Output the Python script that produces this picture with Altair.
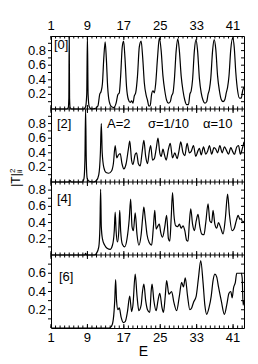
import altair as alt
import pandas as pd

FONT = "Liberation Sans"

E_LABELS = [1, 9, 17, 25, 33, 41]
E_MINOR = list(range(1, 44))
X_DOMAIN = [1, 43.4]

PANEL_NAMES = ["[0]", "[2]", "[4]", "[6]"]
Y_DOMAINS = [[0, 1.0], [0, 1.0], [0, 0.9], [0, 0.8]]
Y_TICKS = [
    [0.1, 0.2, 0.3, 0.4, 0.5, 0.6, 0.7, 0.8, 0.9],
    [0.1, 0.2, 0.3, 0.4, 0.5, 0.6, 0.7, 0.8, 0.9],
    [0.1, 0.2, 0.3, 0.4, 0.5, 0.6, 0.7, 0.8],
    [0.1, 0.2, 0.3, 0.4, 0.5, 0.6, 0.7],
]
Y_LABELS = [
    [0.2, 0.4, 0.6, 0.8],
    [0.2, 0.4, 0.6, 0.8],
    [0.2, 0.4, 0.6, 0.8],
    [0.2, 0.4, 0.6],
]
PARAMS = ["A=2", "σ=1/10", "α=10"]
Y_TITLE = ["|T|", "2", "ii"]
X_TITLE = "E"

# panel [0]
T0 = [
    (1.0, 0.0), (4.5, 0.0), (4.8, 0.02), (4.92, 0.15), (5.0, 1.0), (5.08, 0.15), (5.2, 0.02), (5.5, 0.0),
    (8.2, 0.0), (8.6, 0.03), (8.85, 0.2), (9.0, 1.0), (9.15, 0.2), (9.4, 0.03), (9.9, 0.0),
    (10.8, 0.01), (11.3, 0.04), (11.7, 0.2), (12.0, 0.24), (12.3, 0.35), (12.6, 0.7), (12.9, 0.92),
    (13.15, 0.7), (13.45, 0.3), (13.8, 0.1), (14.3, 0.03), (14.8, 0.02),
    (15.3, 0.08), (15.7, 0.2), (16.0, 0.22), (16.3, 0.45), (16.65, 0.85), (16.95, 0.93), (17.25, 0.7),
    (17.6, 0.3), (18.0, 0.13), (18.4, 0.09), (18.7, 0.11), (19.0, 0.08), (19.3, 0.18), (19.6, 0.22),
    (20.0, 0.45), (20.4, 0.85), (20.8, 0.93), (21.15, 0.7), (21.5, 0.36), (21.9, 0.19), (22.2, 0.12),
    (22.5, 0.04), (22.8, 0.05), (23.1, 0.2), (23.4, 0.25), (23.7, 0.22),
    (24.0, 0.35), (24.4, 0.7), (24.8, 0.97), (25.2, 0.8), (25.6, 0.45), (26.0, 0.25), (26.4, 0.12),
    (26.8, 0.08), (27.2, 0.1), (27.5, 0.18), (27.8, 0.22),
    (28.1, 0.4), (28.5, 0.8), (28.85, 0.96), (29.2, 0.8), (29.6, 0.45), (30.0, 0.25), (30.4, 0.12),
    (30.8, 0.06), (31.2, 0.06), (31.5, 0.2), (31.8, 0.25),
    (32.1, 0.4), (32.5, 0.8), (32.85, 0.95), (33.2, 0.8), (33.6, 0.42), (34.0, 0.22), (34.4, 0.12),
    (34.8, 0.08), (35.2, 0.1), (35.5, 0.2), (35.8, 0.27),
    (36.1, 0.42), (36.5, 0.8), (36.85, 0.95), (37.2, 0.82), (37.6, 0.45), (38.0, 0.25), (38.4, 0.13),
    (38.8, 0.1), (39.2, 0.13), (39.5, 0.22), (39.8, 0.3),
    (40.1, 0.45), (40.5, 0.82), (40.9, 0.97), (41.25, 0.85), (41.6, 0.5), (42.0, 0.25), (42.4, 0.15),
    (42.8, 0.15), (43.1, 0.25), (43.4, 0.3),
]

# panel [2]
T2 = [
    (1.0, 0.0), (4.9, 0.0), (5.2, 0.02), (5.5, 0.0), (7.9, 0.0), (8.25, 0.05), (8.45, 0.3), (8.6, 1.0),
    (8.75, 0.3), (8.95, 0.05), (9.4, 0.01), (10.3, 0.0), (11.0, 0.02), (11.5, 0.1), (11.85, 0.4),
    (12.05, 0.8), (12.25, 0.4), (12.6, 0.2), (13.1, 0.13), (13.7, 0.12), (14.3, 0.15), (14.7, 0.25),
    (15.1, 0.5), (15.45, 0.33), (15.8, 0.37), (16.2, 0.39), (16.6, 0.25), (17.0, 0.18), (17.5, 0.25),
    (18.0, 0.45), (18.3, 0.56), (18.7, 0.3), (19.0, 0.24), (19.5, 0.38), (19.8, 0.4), (20.2, 0.25),
    (20.6, 0.22), (21.0, 0.4), (21.4, 0.57), (21.8, 0.35), (22.2, 0.25), (22.6, 0.42), (22.9, 0.5),
    (23.3, 0.3), (23.7, 0.32), (24.1, 0.45), (24.5, 0.6), (24.9, 0.4), (25.2, 0.35), (25.6, 0.45),
    (25.9, 0.38), (26.3, 0.3), (26.8, 0.45), (27.2, 0.53), (27.7, 0.33), (28.2, 0.4), (28.7, 0.32),
    (29.1, 0.42), (29.5, 0.55), (30.0, 0.4), (30.4, 0.36), (30.9, 0.53), (31.4, 0.4), (31.8, 0.42),
    (32.3, 0.5), (32.8, 0.35), (33.3, 0.43), (33.6, 0.46), (34.0, 0.37), (34.5, 0.48), (35.0, 0.38),
    (35.4, 0.42), (35.8, 0.5), (36.3, 0.38), (36.8, 0.47), (37.2, 0.45), (37.6, 0.4), (38.1, 0.5),
    (38.6, 0.4), (39.1, 0.48), (39.5, 0.44), (40.0, 0.38), (40.5, 0.47), (40.9, 0.42), (41.3, 0.38),
    (41.8, 0.48), (42.2, 0.5), (42.6, 0.38), (43.0, 0.45), (43.4, 0.55),
]

# panel [4]
T4 = [
    (1.0, 0.0), (8.4, 0.0), (8.6, 0.02), (8.8, 0.0), (10.5, 0.0), (11.0, 0.02), (11.5, 0.1),
    (11.75, 0.35), (11.9, 0.81), (12.05, 0.35), (12.3, 0.2), (12.8, 0.12), (13.4, 0.08), (14.0, 0.07),
    (14.5, 0.12), (14.9, 0.3), (15.1, 0.53), (15.3, 0.3), (15.6, 0.16), (15.9, 0.3), (16.1, 0.55),
    (16.3, 0.3), (16.7, 0.13), (17.2, 0.1), (17.7, 0.2), (18.2, 0.45), (18.5, 0.69), (18.8, 0.35),
    (19.1, 0.3), (19.5, 0.52), (19.9, 0.25), (20.3, 0.12), (20.8, 0.25), (21.2, 0.5), (21.4, 0.59),
    (21.7, 0.45), (22.1, 0.25), (22.6, 0.15), (23.1, 0.12), (23.5, 0.35), (23.8, 0.55), (24.1, 0.32),
    (24.5, 0.36), (24.8, 0.38), (25.1, 0.28), (25.5, 0.22), (26.0, 0.35), (26.4, 0.49), (26.8, 0.2),
    (27.1, 0.17), (27.4, 0.45), (27.7, 0.77), (28.0, 0.5), (28.4, 0.36), (28.8, 0.35), (29.2, 0.38),
    (29.6, 0.33), (30.0, 0.36), (30.4, 0.3), (30.8, 0.18), (31.1, 0.17), (31.4, 0.4), (31.7, 0.57),
    (32.1, 0.38), (32.5, 0.3), (32.9, 0.42), (33.3, 0.5), (33.7, 0.35), (34.1, 0.26), (34.6, 0.25),
    (35.0, 0.4), (35.5, 0.63), (35.9, 0.42), (36.3, 0.4), (36.6, 0.55), (37.0, 0.38), (37.4, 0.33),
    (37.8, 0.4), (38.2, 0.35), (38.8, 0.26), (39.3, 0.45), (39.8, 0.75), (40.2, 0.5), (40.8, 0.3),
    (41.2, 0.32), (41.7, 0.42), (42.1, 0.49), (42.5, 0.44), (42.8, 0.45), (43.1, 0.4), (43.4, 0.42),
]

# panel [6]
T6 = [
    (1.0, 0.0), (13.8, 0.0), (14.3, 0.02), (14.7, 0.1), (15.0, 0.3), (15.2, 0.53), (15.4, 0.3),
    (15.7, 0.2), (16.0, 0.22), (16.4, 0.12), (16.9, 0.06), (17.3, 0.07), (17.8, 0.18), (18.3, 0.35),
    (18.7, 0.18), (19.0, 0.25), (19.5, 0.59), (19.9, 0.35), (20.3, 0.19), (20.8, 0.25), (21.1, 0.4),
    (21.4, 0.48), (21.8, 0.3), (22.2, 0.2), (22.7, 0.17), (23.0, 0.4), (23.2, 0.48), (23.6, 0.3),
    (24.1, 0.19), (24.5, 0.3), (24.9, 0.38), (25.4, 0.22), (25.7, 0.17), (26.1, 0.35), (26.4, 0.52),
    (26.9, 0.37), (27.5, 0.4), (28.0, 0.28), (28.6, 0.19), (29.2, 0.35), (29.7, 0.5), (30.1, 0.45),
    (30.5, 0.55), (31.0, 0.35), (31.5, 0.2), (31.9, 0.22), (32.3, 0.28), (32.9, 0.35), (33.4, 0.55),
    (33.9, 0.74), (34.4, 0.5), (34.8, 0.25), (35.2, 0.15), (35.7, 0.22), (36.2, 0.35), (36.6, 0.52),
    (37.0, 0.59), (37.4, 0.56), (37.8, 0.45), (38.4, 0.3), (39.1, 0.15), (39.6, 0.25), (40.1, 0.38),
    (40.5, 0.4), (40.8, 0.33), (41.1, 0.44), (41.5, 0.5), (41.8, 0.6), (42.3, 0.6), (42.8, 0.6),
    (43.0, 0.55), (43.2, 0.25), (43.4, 0.3),
]

SERIES = [T0, T2, T4, T6]

W = 193
PH = 73          # height of one panel
H = 4 * PH
LABEL_POS = [(3, 9), (6, 15), (6, 17), (8, 22)]

xs = alt.Scale(domain=X_DOMAIN, nice=False, zero=False)
X = alt.X("E:Q", scale=xs, axis=None)


def txt(s, x, y, size=13, align="left", angle=None, baseline="middle"):
    kw = dict(align=align, baseline=baseline, fontSize=size, font=FONT, color="black")
    if angle is not None:
        kw["angle"] = angle
    return alt.Chart(pd.DataFrame({"s": [s]})).mark_text(**kw).encode(
        x=alt.value(x), y=alt.value(y), text="s:N")


layers = []
for i in range(4):
    top = i * PH
    bot = top + PH
    ys = alt.Scale(domain=Y_DOMAINS[i], range=[bot, top], nice=False, zero=False)
    Y = alt.Y("T:Q", scale=ys, axis=None)
    df = pd.DataFrame(SERIES[i], columns=["E", "T"])
    layers.append(alt.Chart(df).mark_line(color="black", strokeWidth=1.2,
                                          interpolate="monotone", clip=True).encode(x=X, y=Y))
    ticks = pd.DataFrame({"T": Y_TICKS[i]})
    layers.append(alt.Chart(ticks).mark_rule(color="black", strokeWidth=1).encode(
        y=Y, x=alt.value(-3), x2=alt.value(0)))
    layers.append(alt.Chart(ticks).mark_rule(color="black", strokeWidth=1).encode(
        y=Y, x=alt.value(W), x2=alt.value(W - 3)))
    labs = pd.DataFrame({"T": Y_LABELS[i], "s": [f"{v:.1f}" for v in Y_LABELS[i]]})
    layers.append(alt.Chart(labs).mark_text(align="right", baseline="middle", fontSize=13,
                                            font=FONT, color="black").encode(
        y=Y, x=alt.value(-5), text="s:N"))
    lx, ly = LABEL_POS[i]
    layers.append(txt(PANEL_NAMES[i], lx, top + ly))

# panel separators
for b in [PH, 2 * PH, 3 * PH]:
    layers.append(alt.Chart(pd.DataFrame({"E": [X_DOMAIN[0]]})).mark_rule(
        color="black", strokeWidth=1).encode(x=alt.value(0), x2=alt.value(W), y=alt.value(b)))

# x ticks along each panel edge
minor = pd.DataFrame({"E": E_MINOR})
major = pd.DataFrame({"E": E_LABELS})
for b in [0, PH, 2 * PH, 3 * PH, H]:
    for d, ln in [(minor, 2.5), (major, 4)]:
        y1 = b - ln if b > 0 else b
        y2 = b + ln if b < H else b
        layers.append(alt.Chart(d).mark_rule(color="black", strokeWidth=1).encode(
            x=X, y=alt.value(y1), y2=alt.value(y2)))

# x tick labels top and bottom
xl = pd.DataFrame({"E": E_LABELS, "s": [str(v) for v in E_LABELS]})
for yy in [-10, H + 10]:
    layers.append(alt.Chart(xl).mark_text(align="center", baseline="middle", fontSize=13,
                                          font=FONT, color="black").encode(
        x=X, y=alt.value(yy), text="s:N"))
layers.append(txt(X_TITLE, W / 2 - 4, H + 24, size=14, align="center"))

# parameters in panel [2]
for s, px in zip(PARAMS, [56, 97, 152]):
    layers.append(txt(s, px, PH + 15))

# y title
layers.append(txt(Y_TITLE[0], -35, 144, size=12, align="center", angle=270))
layers.append(txt(Y_TITLE[1], -38, 137, size=8, align="left", angle=270))
layers.append(txt(Y_TITLE[2], -31, 137, size=8, align="left", angle=270))

chart = alt.layer(*layers).resolve_scale(y="independent").properties(
    width=W, height=H,
    autosize=alt.AutoSizeParams(type="none"),
    padding={"left": 43, "top": 28, "right": 6, "bottom": 40},
).configure_view(stroke="black", strokeWidth=1)

chart.save("out.html", embed_options={"renderer": "svg", "actions": False})
